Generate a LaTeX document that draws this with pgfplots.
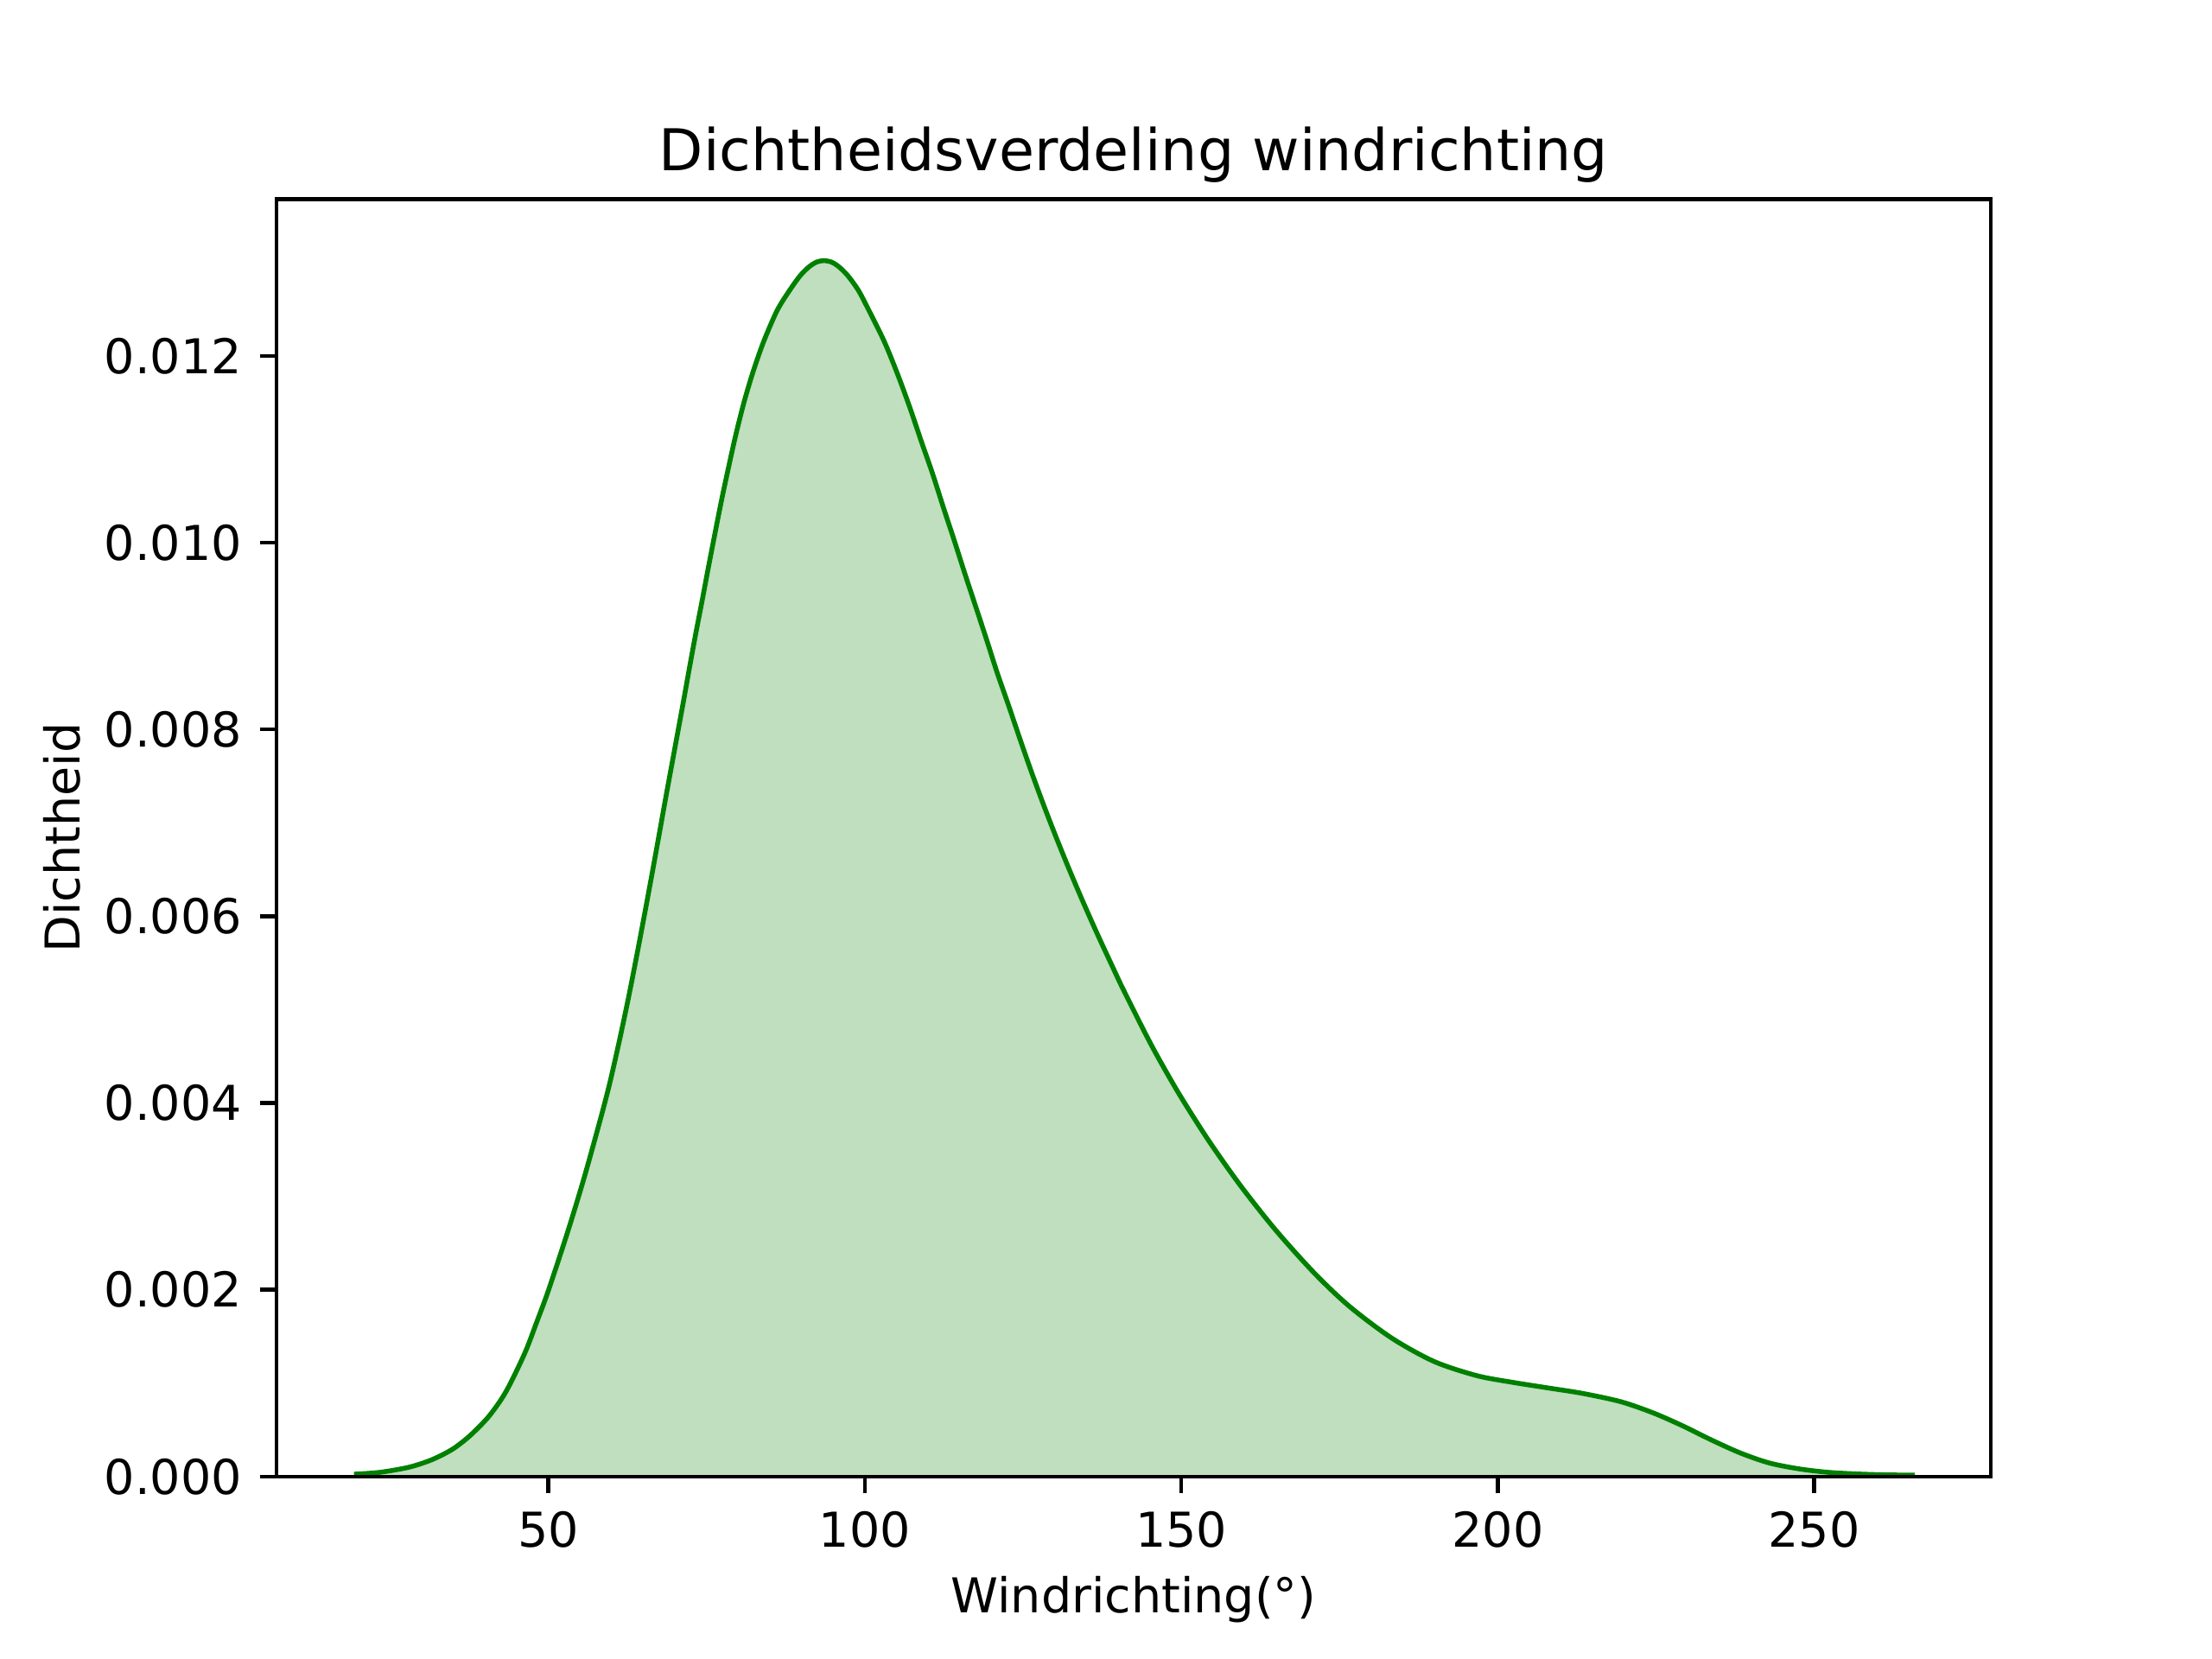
\documentclass[border=0pt]{standalone}
\usepackage{fontspec}
\setmainfont{DejaVu Sans}
\usepackage{pgfplots}
\usepackage{pgfplotstable}
\pgfplotsset{compat=1.18}
\definecolor{mplgreen}{RGB}{0,128,0}
\definecolor{fillgreen}{RGB}{191,223,191}
\pgfplotstableread{
x y
19.3 0.000025
23.4 0.000045
28.0 0.000100
31.6 0.00018
34.8 0.00029
37.5 0.00043
40.3 0.00062
42.5 0.00082
44.1 0.00101
46.4 0.00134
48.2 0.00166
50.05 0.00200
53.1 0.00263
55.7 0.00321
58.4 0.00387
59.8 0.00424
61.3 0.00469
62.7 0.00514
64.0 0.00559
65.2 0.00602
66.4 0.00646
67.6 0.00691
68.55 0.00727
69.5 0.00762
70.45 0.00797
71.4 0.00832
72.35 0.00868
73.3 0.00903
74.3 0.00938
75.3 0.00974
76.3 0.01009
77.35 0.01045
78.45 0.01080
79.6 0.01115
80.9 0.01150
82.3 0.01182
84.0 0.01215
86.1 0.01248
88.0 0.01269
89.8 0.01286
91.3 0.01296
92.4 0.013005
93.5 0.01302
94.7 0.013005
95.8 0.01296
97.3 0.01286
99.0 0.01270
100.7 0.01248
103.1 0.01215
105.2 0.01180
107.1 0.01145
108.9 0.01109
110.7 0.01074
112.4 0.01038
114.1 0.01003
115.8 0.00967
117.5 0.00932
119.2 0.00897
120.9 0.00861
122.7 0.00826
124.5 0.00790
126.3 0.00755
128.2 0.00720
130.2 0.00685
132.3 0.00650
134.5 0.00615
136.8 0.00580
139.2 0.00545
140.8 0.00522
144.2 0.00476
146.4 0.00448
149.8 0.00408
154.3 0.00360
159.3 0.00312
164.9 0.00264
171.0 0.00218
176.6 0.00182
183.3 0.00148
190.0 0.00123
196.7 0.00108
202.2 0.00101
207.8 0.00095
213.4 0.00089
219.5 0.00080
224.6 0.00068
229.3 0.00054
233.8 0.00039
238.4 0.00025
242.9 0.000145
247.5 0.000083
252.0 0.000046
256.6 0.000028
261.2 0.000018
265.9 0.000015
}\kdedata
\begin{document}
\begin{tikzpicture}
\useasboundingbox (0,0) rectangle (460.8pt,345.6pt);
\begin{axis}[
  at={(57.6pt,38.016pt)}, anchor=south west,
  width=357.12pt, height=266.112pt, scale only axis,
  xmin=7.05, xmax=277.9, ymin=0, ymax=0.013679,
  xtick={50,100,150,200,250},
  ytick={0,0.002,0.004,0.006,0.008,0.010,0.012},
  scaled y ticks=false,
  /pgf/number format/assume math mode=true,
  yticklabel={\pgfmathprintnumber[fixed,fixed zerofill,precision=3]{\tick}},
  tick align=outside,
  xtick pos=bottom, ytick pos=left,
  major tick length=3.5pt,
  tick style={line width=0.8pt, black},
  axis line style={line width=0.8pt},
  axis on top=true,
  tick label style={font=\fontsize{10}{12}\selectfont, inner sep=0pt},
  xticklabel style={anchor=north, yshift=-3.5pt},
  yticklabel style={anchor=east, xshift=-3.5pt},
  every axis title/.style={at={(axis description cs:0.5,1)}, yshift=6pt, anchor=base, inner sep=0pt, font=\fontsize{12}{14.4}\selectfont},
  every axis x label/.style={at={(axis description cs:0.5,0)}, yshift=-20.65pt, anchor=north, inner sep=0pt, font=\fontsize{10}{12}\selectfont},
  every axis y label/.style={at={(axis description cs:0,0.5)}, xshift=-41pt, rotate=90, anchor=base, inner sep=0pt, font=\fontsize{10}{12}\selectfont},
  title={Dichtheidsverdeling windrichting},
  xlabel={Windrichting(°)},
  ylabel={Dichtheid},
]
\addplot[draw=none, fill=fillgreen, smooth, tension=0.5] table[x=x,y=y] {\kdedata} \closedcycle;
\addplot[mplgreen, line width=1pt, line join=round, smooth, tension=0.5] table[x=x,y=y] {\kdedata};
\end{axis}
\end{tikzpicture}
\end{document}
